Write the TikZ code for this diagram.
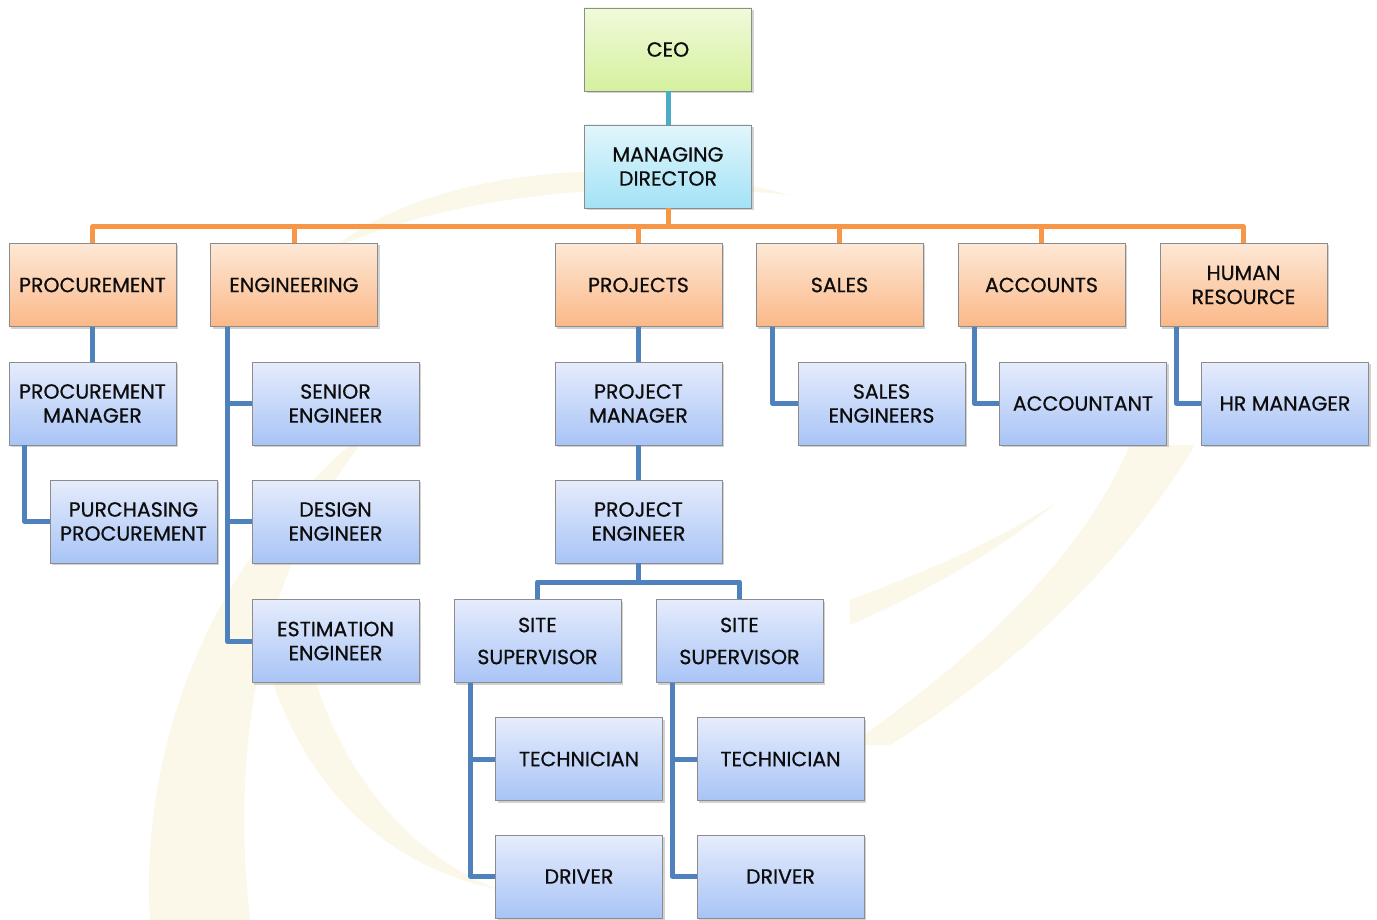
\documentclass[tikz,border=0pt]{standalone}
\usepackage{fontspec}
\setmainfont{Poppins}[FakeBold=0.7]
\usetikzlibrary{shadows}
\definecolor{orgline}{HTML}{F79646}
\definecolor{blueline}{HTML}{4F81BD}
\definecolor{tealline}{HTML}{4BACC6}
\definecolor{cream}{HTML}{FBF8EA}
\tikzset{
  box/.style={draw=black!45, line width=0.8pt, minimum width=167pt, minimum height=83pt,
    align=center, inner sep=2pt, text=black!95, font=\fontsize{20.5}{24}\selectfont,
    drop shadow={opacity=0.35, shadow xshift=2pt, shadow yshift=-2pt}},
  greenbox/.style={box, top color={rgb,255:red,240;green,250;blue,218}, bottom color={rgb,255:red,213;green,241;blue,158}},
  cyanbox/.style={box, top color={rgb,255:red,226;green,246;blue,252}, bottom color={rgb,255:red,163;green,226;blue,246}},
  orgbox/.style={box, top color={rgb,255:red,253;green,232;blue,214}, bottom color={rgb,255:red,251;green,184;blue,136}},
  bluebox/.style={box, top color={rgb,255:red,230;green,236;blue,252}, bottom color={rgb,255:red,168;green,196;blue,246}},
  oline/.style={orgline, line width=5pt, line join=round},
  bline/.style={blueline, line width=5pt, line join=round},
  tline/.style={tealline, line width=5pt},
}
\begin{document}
\begin{tikzpicture}[x=1pt,y=-1pt]
\useasboundingbox (0,0) rectangle (1377,920);
\fill[white] (0,0) rectangle (1377,920);
% faint watermark swooshes
\fill[cream] (330,250) .. controls (430,170) and (620,150) .. (790,195)
  .. controls (620,178) and (450,195) .. (330,250) -- cycle;
\fill[cream] (150,920) .. controls (140,760) and (200,560) .. (380,420)
  .. controls (260,560) and (230,740) .. (250,920) -- cycle;
\fill[cream] (260,640) .. controls (300,800) and (400,870) .. (500,890)
  .. controls (420,860) and (330,780) .. (300,620) -- cycle;
\fill[cream] (850,745) .. controls (1000,640) and (1090,540) .. (1130,445)
  -- (1195,445) .. controls (1120,570) and (1010,670) .. (890,745) -- cycle;
\fill[cream] (850,600) .. controls (930,570) and (1000,540) .. (1060,500)
  .. controls (1000,550) and (930,590) .. (850,625) -- cycle;

% nodes
\node[greenbox] (ceo) at (668,49.5) {CEO};
\node[cyanbox] (md) at (668,166.5) {MANAGING\\DIRECTOR};

\node[orgbox] (proc) at (92.5,285) {PROCUREMENT};
\node[orgbox] (eng) at (294,285) {ENGINEERING};
\node[orgbox] (proj) at (638.5,285) {PROJECTS};
\node[orgbox] (sales) at (839.5,285) {SALES};
\node[orgbox] (acc) at (1041.5,285) {ACCOUNTS};
\node[orgbox] (hr) at (1243.5,285) {HUMAN\\RESOURCE};

\node[bluebox] (pm) at (92.5,403.5) {PROCUREMENT\\MANAGER};
\node[bluebox] (purch) at (133.5,521.5) {PURCHASING\\PROCUREMENT};
\node[bluebox] (sen) at (335.5,403.5) {SENIOR\\ENGINEER};
\node[bluebox] (des) at (335.5,521.5) {DESIGN\\ENGINEER};
\node[bluebox] (est) at (335.5,641) {ESTIMATION\\ENGINEER};
\node[bluebox] (prm) at (638.5,403.5) {PROJECT\\MANAGER};
\node[bluebox] (pe) at (638.5,521.5) {PROJECT\\ENGINEER};
\node[bluebox] (ss1) at (537.5,641) {SITE\\[8pt]SUPERVISOR};
\node[bluebox] (ss2) at (739.5,641) {SITE\\[8pt]SUPERVISOR};
\node[bluebox] (tech1) at (579,759) {TECHNICIAN};
\node[bluebox] (drv1) at (579,876.5) {DRIVER};
\node[bluebox] (tech2) at (780.5,759) {TECHNICIAN};
\node[bluebox] (drv2) at (780.5,876.5) {DRIVER};
\node[bluebox] (se) at (881.5,403.5) {SALES\\ENGINEERS};
\node[bluebox] (acct) at (1083,403.5) {ACCOUNTANT};
\node[bluebox] (hrm) at (1285,403.5) {HR MANAGER};

% connectors
\draw[tline] (ceo.south) -- (md.north);
\coordinate (bus) at (668,227);
\draw[oline] (md.south) -- (bus);
\draw[oline] (proc.north) |- (hr.north |- bus) -- (hr.north);
\foreach \n in {eng,proj,sales,acc} \draw[oline] (\n.north) -- (\n.north |- bus);

\draw[bline] (proc.south) -- (pm.north);
\draw[bline] ([xshift=16pt]pm.south west) |- (purch.west);

\coordinate (engbar) at ([xshift=17pt]eng.south west);
\draw[bline] (engbar) |- (est.west);
\draw[bline] (engbar |- sen.west) -- (sen.west);
\draw[bline] (engbar |- des.west) -- (des.west);

\draw[bline] (proj.south) -- (prm.north);
\draw[bline] (prm.south) -- (pe.north);
\coordinate (ssbus) at (638.5,582);
\draw[bline] (pe.south) -- (ssbus);
\draw[bline] (ss1.north) |- (ss2.north |- ssbus) -- (ss2.north);

\coordinate (ss1bar) at ([xshift=17pt]ss1.south west);
\draw[bline] (ss1bar) |- (drv1.west);
\draw[bline] (ss1bar |- tech1.west) -- (tech1.west);
\coordinate (ss2bar) at ([xshift=17pt]ss2.south west);
\draw[bline] (ss2bar) |- (drv2.west);
\draw[bline] (ss2bar |- tech2.west) -- (tech2.west);

\draw[bline] ([xshift=17pt]sales.south west) |- (se.west);
\draw[bline] ([xshift=17pt]acc.south west) |- (acct.west);
\draw[bline] ([xshift=17pt]hr.south west) |- (hrm.west);
\end{tikzpicture}
\end{document}
